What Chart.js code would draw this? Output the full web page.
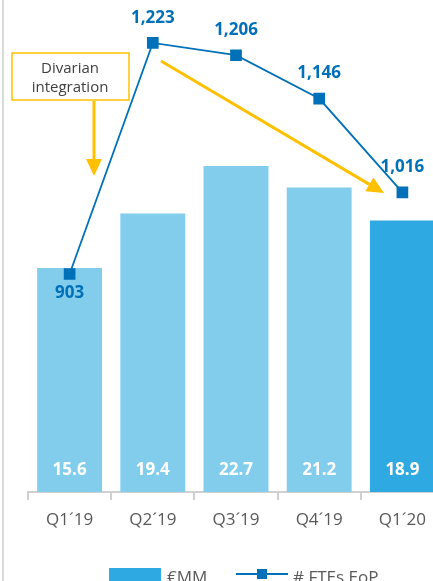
<!DOCTYPE html>
<html>
<head>
<meta charset="utf-8">
<script src="https://cdn.jsdelivr.net/npm/chart.js@4"></script>
<style>
  html, body { margin: 0; padding: 0; background: #fff; overflow: hidden; }
  body { width: 433px; height: 581px; position: relative; font-family: "Open Sans", sans-serif; }
  #wrap { position: absolute; left: 0; top: 0; width: 445px; height: 581px; }
  #leftLine { position: absolute; left: 2px; top: 0; width: 2px; height: 581px; background: #d9d9d9; }
  .lg { position: absolute; font-size: 17px; color: #595959; line-height: 22px; top: 566px; white-space: nowrap; }
</style>
</head>
<body>
<div id="leftLine"></div>
<div id="wrap"><canvas id="myChart" width="445" height="581"></canvas></div>
<div style="position:absolute;left:109px;top:568px;width:52px;height:14px;background:#2EA9E1;"></div>
<div class="lg" style="left:167px;">€MM</div>
<div style="position:absolute;left:236px;top:573px;width:52px;height:2px;background:#0070B8;"></div>
<div style="position:absolute;left:257px;top:569px;width:10px;height:10px;background:#0070B8;"></div>
<div class="lg" style="left:293px;">#&nbsp;FTEs EoP</div>
<script>
'use strict';
// chart data
const quarters = ['Q1´19', 'Q2´19', 'Q3´19', 'Q4´19', 'Q1´20'];
const costMM = [15.6, 19.4, 22.7, 21.2, 18.9];
const ftesEoP = [903, 1223, 1206, 1146, 1016];
const barColors = ['#82CDEC', '#82CDEC', '#82CDEC', '#82CDEC', '#2EA9E1'];

const lineBlue = '#0070B8';
const yellow = '#FFC000';

// draws value labels, the annotation box and the yellow arrows
const extrasPlugin = {
  id: 'extras',
  afterDatasetsDraw(chart) {
    const ctx = chart.ctx;
    const bars = chart.getDatasetMeta(0).data;
    const pts = chart.getDatasetMeta(1).data;
    ctx.save();
    ctx.textAlign = 'center';
    ctx.textBaseline = 'middle';
    ctx.font = 'bold 17px "Open Sans", sans-serif';
    ctx.fillStyle = '#fff';
    bars.forEach((b, i) => {
      ctx.fillText(costMM[i].toFixed(1), b.x, chart.chartArea.bottom - 22);
    });
    ctx.fillStyle = lineBlue;
    pts.forEach((p, i) => {
      const y = i === 0 ? p.y + 19 : p.y - 25;
      ctx.fillText(ftesEoP[i].toLocaleString('en-US'), p.x, y);
    });

    // annotation box
    ctx.strokeStyle = yellow;
    ctx.lineWidth = 1.5;
    ctx.strokeRect(12, 53, 117, 47);
    ctx.fillStyle = '#404040';
    ctx.font = '15px "Open Sans", sans-serif';
    ctx.fillText('Divarian', 70, 69);
    ctx.fillText('integration', 70, 88);

    function arrow(x1, y1, x2, y2) {
      const ang = Math.atan2(y2 - y1, x2 - x1);
      const hl = 17, hw = 8;
      const bx = x2 - hl * Math.cos(ang), by = y2 - hl * Math.sin(ang);
      ctx.strokeStyle = yellow;
      ctx.fillStyle = yellow;
      ctx.lineWidth = 3;
      ctx.beginPath();
      ctx.moveTo(x1, y1);
      ctx.lineTo(bx, by);
      ctx.stroke();
      ctx.beginPath();
      ctx.moveTo(x2, y2);
      ctx.lineTo(bx + hw * Math.sin(ang), by - hw * Math.cos(ang));
      ctx.lineTo(bx - hw * Math.sin(ang), by + hw * Math.cos(ang));
      ctx.closePath();
      ctx.fill();
    }
    arrow(94, 101, 94, 176);
    arrow(161, 61, 384, 193);
    ctx.restore();
  }
};

new Chart('myChart', {
  data: {
    labels: quarters,
    datasets: [{
      type: 'bar',
      label: '€MM',
      data: costMM,
      backgroundColor: barColors,
      barPercentage: 0.78,
      categoryPercentage: 1,
      yAxisID: 'y',
      order: 2
    }, {
      type: 'line',
      label: '# FTEs EoP',
      data: ftesEoP,
      borderColor: lineBlue,
      backgroundColor: lineBlue,
      borderWidth: 1.8,
      pointStyle: 'rect',
      pointRadius: 7,
      pointHoverRadius: 7,
      tension: 0,
      yAxisID: 'y2',
      order: 1
    }]
  },
  options: {
    responsive: false,
    animation: false,
    layout: { autoPadding: false, padding: { left: 28, right: 1, top: 0, bottom: 0 } },
    plugins: { legend: { display: false }, tooltip: { enabled: false } },
    scales: {
      x: {
        offset: true,
        grid: { display: true, drawOnChartArea: false, offset: true, tickLength: 8, color: '#d0d0d0', lineWidth: 2 },
        border: { color: '#d0d0d0', width: 2 },
        ticks: { color: '#595959', font: { family: 'Open Sans', size: 17 }, padding: 10 },
        afterFit(scale) { scale.height = 89; }
      },
      y: { display: false, min: 0, max: 34.26 },
      y2: { display: false, min: 601, max: 1282.5 }
    }
  },
  plugins: [extrasPlugin]
});
</script>
</body>
</html>
